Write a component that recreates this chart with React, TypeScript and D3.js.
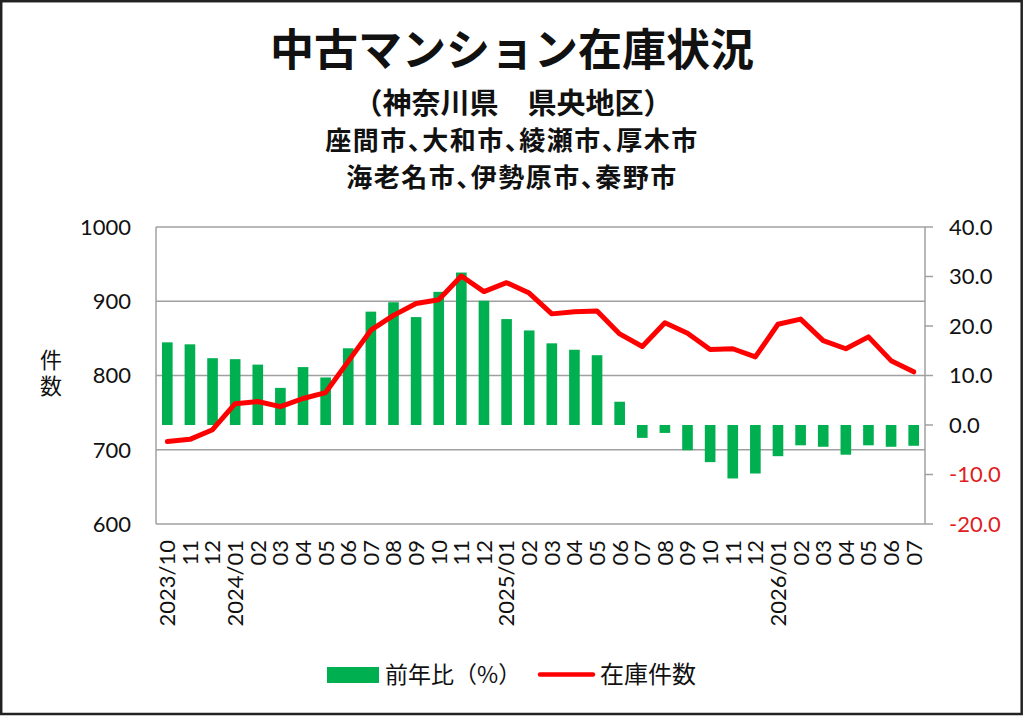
import React from "react";
import * as d3 from "d3";

// 月ラベル（横軸）
const months = [
  "2023/10", "11", "12",
  "2024/01", "02", "03", "04", "05", "06", "07", "08", "09", "10", "11", "12",
  "2025/01", "02", "03", "04", "05", "06", "07", "08", "09", "10", "11", "12",
  "2026/01", "02", "03", "04", "05", "06", "07",
];

// 前年比（%） - right axis
const yoyRate = [
  16.7, 16.3, 13.5,
  13.3, 12.2, 7.5, 11.7, 9.6, 15.5, 22.9, 24.8, 21.8, 26.9, 30.8, 25.1,
  21.4, 19.1, 16.5, 15.2, 14.1, 4.7, -2.6, -1.6, -5.1, -7.5, -10.8, -9.8,
  -6.3, -4.1, -4.4, -6.0, -4.1, -4.4, -4.2,
];

// 在庫件数 - left axis
const stockCount = [
  711, 714, 727,
  762, 765, 758, 769, 777, 819, 861, 881, 897, 902, 934, 913,
  925, 911, 883, 886, 887, 856, 839, 871, 857, 835, 836, 825,
  869, 876, 847, 836, 852, 820, 805,
];

const leftTicks = [600, 700, 800, 900, 1000];
const rightTicks = [-20, -10, 0, 10, 20, 30, 40];

const titleLines = [
  "中古マンション在庫状況",
  "（神奈川県　県央地区）",
  "座間市、大和市、綾瀬市、厚木市",
  "海老名市、伊勢原市、秦野市",
];
const yAxisTitle = "件数";
const legendLabels = ["前年比（%）", "在庫件数"];

const CJK = '"Noto Sans CJK JP", "Noto Sans", sans-serif';
const NUM = 'Lato, "Open Sans", sans-serif';
const GREEN = "#00B050";
const RED = "#FF0000";
const GRID = "#A0A0A0";

const App: React.FC = () => {
  const width = 1024;
  const height = 716;
  const plot = { left: 156, right: 925, top: 227, bottom: 524 };

  const x = d3
    .scaleBand<number>()
    .domain(d3.range(months.length))
    .range([plot.left, plot.right])
    .padding(0);
  const barW = x.bandwidth() * 0.47;
  const cx = (i: number) => x(i)! + x.bandwidth() / 2;

  const yLeft = d3.scaleLinear().domain([600, 1000]).range([plot.bottom, plot.top]);
  const yRight = d3.scaleLinear().domain([-20, 40]).range([plot.bottom, plot.top]);

  const line = d3
    .line<number>()
    .x((_, i) => cx(i))
    .y((d) => yLeft(d));

  const subStyle = { fontFeatureSettings: '"palt"', letterSpacing: "1.5px" };

  return (
    <svg
      width={width}
      height={height}
      style={{ position: "absolute", left: 0, top: 0, background: "#fff" }}
    >
      <rect x={0} y={0} width={width} height={height} fill="#fff" />
      <rect x={1.2} y={1.2} width={1020.5} height={712.8} fill="none" stroke="#222" strokeWidth={2.5} />

      {/* titles */}
      <g fontFamily={CJK} fontWeight={700} textAnchor="middle" fill="#111">
        <text x={512} y={66} fontSize={44}>{titleLines[0]}</text>
        <text x={513} y={114} fontSize={29}>{titleLines[1]}</text>
        <text x={512} y={150} fontSize={26} style={subStyle}>{titleLines[2]}</text>
        <text x={512} y={187} fontSize={26} style={subStyle}>{titleLines[3]}</text>
      </g>

      {/* gridlines */}
      {leftTicks.slice(1).map((t) => (
        <line key={t} x1={plot.left} x2={plot.right} y1={yLeft(t)} y2={yLeft(t)} stroke={GRID} strokeWidth={1.5} />
      ))}

      {/* bars */}
      {yoyRate.map((v, i) => (
        <rect
          key={i}
          x={cx(i) - barW / 2}
          y={Math.min(yRight(v), yRight(0))}
          width={barW}
          height={Math.abs(yRight(v) - yRight(0))}
          fill={GREEN}
        />
      ))}

      {/* axes */}
      <line x1={plot.left} x2={plot.left} y1={plot.top} y2={plot.bottom} stroke={GRID} strokeWidth={1.5} />
      <line x1={plot.left} x2={plot.right} y1={plot.bottom} y2={plot.bottom} stroke={GRID} strokeWidth={1.5} />
      <line x1={plot.right} x2={plot.right} y1={plot.top} y2={plot.bottom} stroke={GRID} strokeWidth={1.5} />
      {rightTicks.map((t) => (
        <line key={t} x1={plot.right} x2={plot.right + 8} y1={yRight(t)} y2={yRight(t)} stroke={GRID} strokeWidth={1.5} />
      ))}

      {/* inventory line */}
      <path
        d={line(stockCount) ?? ""}
        fill="none"
        stroke={RED}
        strokeWidth={5}
        strokeLinejoin="round"
        strokeLinecap="round"
      />

      {/* left tick labels */}
      <g fontFamily={NUM} fontSize={22} fill="#111" textAnchor="end">
        {leftTicks.map((t) => (
          <text key={t} x={131} y={yLeft(t)} dy="0.36em">{t}</text>
        ))}
      </g>

      {/* right tick labels */}
      <g fontFamily={NUM} fontSize={22} textAnchor="start">
        {rightTicks.map((t) => (
          <text key={t} x={949} y={yRight(t)} dy="0.36em" fill={t < 0 ? "#E02020" : "#111"}>
            {t.toFixed(1)}
          </text>
        ))}
      </g>

      {/* x tick labels */}
      <g fontFamily={NUM} fontSize={22} fill="#111" textAnchor="end">
        {months.map((m, i) => (
          <text key={i} transform={`translate(${cx(i)},${540}) rotate(-90)`} dy="0.36em">
            {m}
          </text>
        ))}
      </g>

      {/* left axis title (vertical) */}
      <text
        x={51}
        y={349}
        fontFamily={CJK}
        fontSize={22}
        fill="#111"
        style={{ writingMode: "vertical-rl", letterSpacing: "4px" }}
      >
        {yAxisTitle}
      </text>

      {/* legend */}
      <rect x={327} y={667} width={52} height={16} fill={GREEN} />
      <text x={385} y={683} fontFamily={CJK} fontSize={23} fill="#111">{legendLabels[0]}</text>
      <line x1={540} x2={593} y1={674.5} y2={674.5} stroke={RED} strokeWidth={4.5} strokeLinecap="round" />
      <text x={600} y={683} fontFamily={CJK} fontSize={24} fill="#111">{legendLabels[1]}</text>
    </svg>
  );
};

export default App;
